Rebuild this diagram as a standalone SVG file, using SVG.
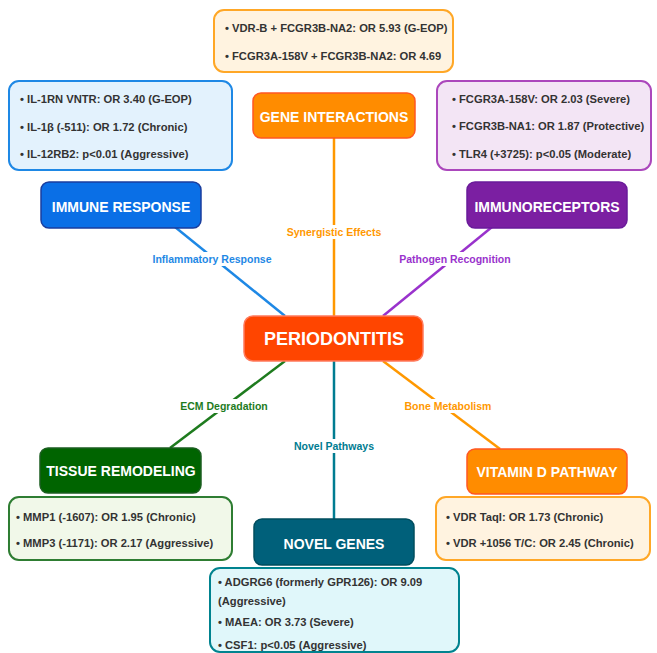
<svg xmlns="http://www.w3.org/2000/svg" width="657" height="653" viewBox="0 0 657 653">
<style>
  text { font-family: "Liberation Sans", Arial, sans-serif; font-weight: bold; }
  .node-t { font-size: 14px; fill: #ffffff; text-anchor: middle; }
  .det { font-size: 11.2px; fill: #333333; }
  .lbl { font-size: 10.5px; text-anchor: middle; }
  .conn { stroke-width: 2.5; fill: none; }
  .bg { fill: #ffffff; }
</style>
<rect width="657" height="653" fill="#ffffff"/>

<g id="connectors">
  <line class="conn" x1="334" y1="138" x2="334" y2="316" stroke="#FF9800"/>
  <line class="conn" x1="175" y1="227" x2="285" y2="316" stroke="#1E88E5"/>
  <line class="conn" x1="492" y1="227" x2="383" y2="316" stroke="#9932CC"/>
  <line class="conn" x1="285" y1="361" x2="170" y2="448" stroke="#1E7B1E"/>
  <line class="conn" x1="383" y1="361" x2="500" y2="449" stroke="#FF9800"/>
  <line class="conn" x1="334" y1="361" x2="334" y2="520" stroke="#007C91"/>

  <rect class="bg" x="282" y="225" width="104" height="14"/>
  <text class="lbl" x="334" y="236" fill="#FF9800">Synergistic Effects</text>
  <rect class="bg" x="148" y="252" width="128" height="14"/>
  <text class="lbl" x="212" y="263" fill="#1E88E5">Inflammatory Response</text>
  <rect class="bg" x="394" y="252" width="122" height="14"/>
  <text class="lbl" x="455" y="263" fill="#9932CC">Pathogen Recognition</text>
  <rect class="bg" x="176" y="399" width="96" height="14"/>
  <text class="lbl" x="224" y="410" fill="#1E7B1E">ECM Degradation</text>
  <rect class="bg" x="401" y="399" width="94" height="14"/>
  <text class="lbl" x="448" y="410" fill="#FF9800">Bone Metabolism</text>
  <rect class="bg" x="290" y="439" width="88" height="14"/>
  <text class="lbl" x="334" y="450" fill="#007C91">Novel Pathways</text>
</g>

<g id="gene-interactions-details">
  <rect x="214" y="10" width="239" height="62" rx="10" fill="#FFF3E0" stroke="#FFA726" stroke-width="2"/>
  <text class="det" x="225" y="32">• VDR-B + FCGR3B-NA2: OR 5.93 (G-EOP)</text>
  <text class="det" x="225" y="60">• FCGR3A-158V + FCGR3B-NA2: OR 4.69</text>
</g>
<g id="gene-interactions">
  <rect x="253" y="93" width="162" height="45" rx="8" fill="#FF8C00" stroke="#FF5722" stroke-width="1.5"/>
  <text class="node-t" x="334" y="122">GENE INTERACTIONS</text>
</g>

<g id="immune-response-details">
  <rect x="9" y="81" width="223" height="89" rx="10" fill="#E3F2FD" stroke="#1E88E5" stroke-width="2"/>
  <text class="det" x="20" y="103">• IL-1RN VNTR: OR 3.40 (G-EOP)</text>
  <text class="det" x="20" y="131">• IL-1β (-511): OR 1.72 (Chronic)</text>
  <text class="det" x="20" y="158">• IL-12RB2: p&lt;0.01 (Aggressive)</text>
</g>
<g id="immune-response">
  <rect x="41" y="182" width="160" height="46" rx="8" fill="#0A6FE6" stroke="#1A3E9E" stroke-width="1.5"/>
  <text class="node-t" x="121" y="212">IMMUNE RESPONSE</text>
</g>

<g id="immunoreceptors-details">
  <rect x="437" y="81" width="214" height="89" rx="10" fill="#F3E5F5" stroke="#AB47BC" stroke-width="2"/>
  <text class="det" x="452" y="103">• FCGR3A-158V: OR 2.03 (Severe)</text>
  <text class="det" x="452" y="130">• FCGR3B-NA1: OR 1.87 (Protective)</text>
  <text class="det" x="452" y="158">• TLR4 (+3725): p&lt;0.05 (Moderate)</text>
</g>
<g id="immunoreceptors">
  <rect x="467" y="182" width="160" height="46" rx="8" fill="#7B1FA2" stroke="#6A1B9A" stroke-width="1.5"/>
  <text class="node-t" x="547" y="212">IMMUNORECEPTORS</text>
</g>

<g id="periodontitis">
  <rect x="244" y="316" width="179" height="45" rx="9" fill="#FF4500" stroke="#FF7A5C" stroke-width="1.5"/>
  <text x="334" y="345" font-size="18" fill="#ffffff" text-anchor="middle">PERIODONTITIS</text>
</g>

<g id="tissue-remodeling">
  <rect x="40" y="448" width="161" height="45" rx="8" fill="#006400" stroke="#1B5E20" stroke-width="1.5"/>
  <text class="node-t" x="121" y="476">TISSUE REMODELING</text>
</g>
<g id="tissue-remodeling-details">
  <rect x="9" y="497" width="223" height="63" rx="10" fill="#F1F8E9" stroke="#2E7D32" stroke-width="2"/>
  <text class="det" x="16" y="521">• MMP1 (-1607): OR 1.95 (Chronic)</text>
  <text class="det" x="16" y="547">• MMP3 (-1171): OR 2.17 (Aggressive)</text>
</g>

<g id="vitamin-d-pathway">
  <rect x="467" y="449" width="160" height="45" rx="8" fill="#FF8C00" stroke="#FF5722" stroke-width="1.5"/>
  <text class="node-t" x="547" y="477">VITAMIN D PATHWAY</text>
</g>
<g id="vitamin-d-pathway-details">
  <rect x="436" y="497" width="214" height="63" rx="10" fill="#FFF3E0" stroke="#FFA726" stroke-width="2"/>
  <text class="det" x="446" y="521">• VDR TaqI: OR 1.73 (Chronic)</text>
  <text class="det" x="446" y="547">• VDR +1056 T/C: OR 2.45 (Chronic)</text>
</g>

<g id="novel-genes">
  <rect x="254" y="519" width="160" height="46" rx="8" fill="#00607A" stroke="#004D5E" stroke-width="1.5"/>
  <text class="node-t" x="334" y="549">NOVEL GENES</text>
</g>
<g id="novel-genes-details">
  <rect x="210" y="568" width="249" height="84" rx="10" fill="#E0F7FA" stroke="#00838F" stroke-width="2"/>
  <text class="det" x="218" y="586">• ADGRG6 (formerly GPR126): OR 9.09</text>
  <text class="det" x="218" y="605">(Aggressive)</text>
  <text class="det" x="218" y="626">• MAEA: OR 3.73 (Severe)</text>
  <text class="det" x="218" y="649">• CSF1: p&lt;0.05 (Aggressive)</text>
</g>
</svg>
